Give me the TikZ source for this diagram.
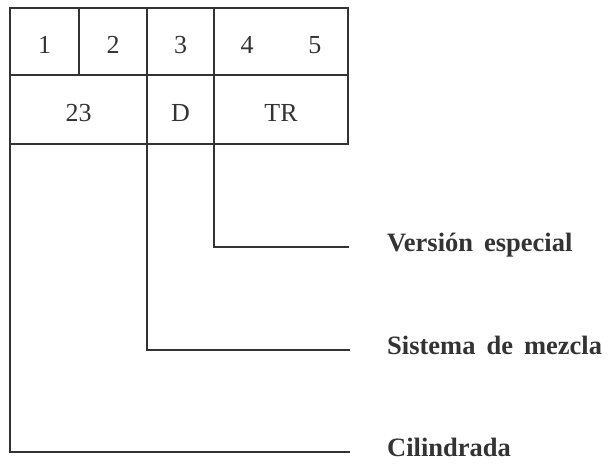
\documentclass[tikz,border=0pt]{standalone}
\usepackage{fontspec}
\setmainfont{Liberation Serif}
\definecolor{ink}{HTML}{333333}
\newcommand\labfont{\fontsize{26.5}{28}\selectfont\bfseries\spaceskip=11pt\relax}
\begin{document}
\begin{tikzpicture}[x=1pt,y=-1pt,
  cell/.style={draw=ink, line width=1.6pt, rectangle, inner sep=0pt, outer sep=0pt, anchor=north west,
    font=\fontsize{26}{28}\selectfont, text=ink, text height=24pt, text depth=0pt},
  conn/.style={draw=ink, line width=1.6pt},
  lab/.style={anchor=base west, inner sep=0pt, font=\labfont, text=ink}]
\useasboundingbox (0,0) rectangle (614,470);
% row 1
\node[cell, minimum width=69pt, minimum height=67pt] (c1) at (10,8) {1};
\node[cell, minimum width=68pt, minimum height=67pt] (c2) at (79,8) {2};
\node[cell, minimum width=67pt, minimum height=67pt] (c3) at (147,8) {3};
\node[cell, minimum width=134pt, minimum height=67pt] (c45) at (214,8) {4\hspace{55pt}5};
% row 2
\node[cell, minimum width=137pt, minimum height=69pt] (c23) at (10,75) {23};
\node[cell, minimum width=67pt, minimum height=69pt] (cD) at (147,75) {D};
\node[cell, minimum width=134pt, minimum height=69pt] (cTR) at (214,75) {TR};
% connectors
\coordinate (e1) at (349,247);
\coordinate (e2) at (350,350);
\coordinate (e3) at (350,452);
\draw[conn] (cTR.south west) |- (e1);
\draw[conn] (cD.south west) |- (e2);
\draw[conn] (c23.south west) |- (e3);
% labels
\node[lab] (l1) at (387,251.5) {Versión especial};
\node[lab] (l2) at (387,354.5) {Sistema de mezcla};
\node[lab] (l3) at (387,456.5) {Cilindrada};
\end{tikzpicture}
\end{document}
